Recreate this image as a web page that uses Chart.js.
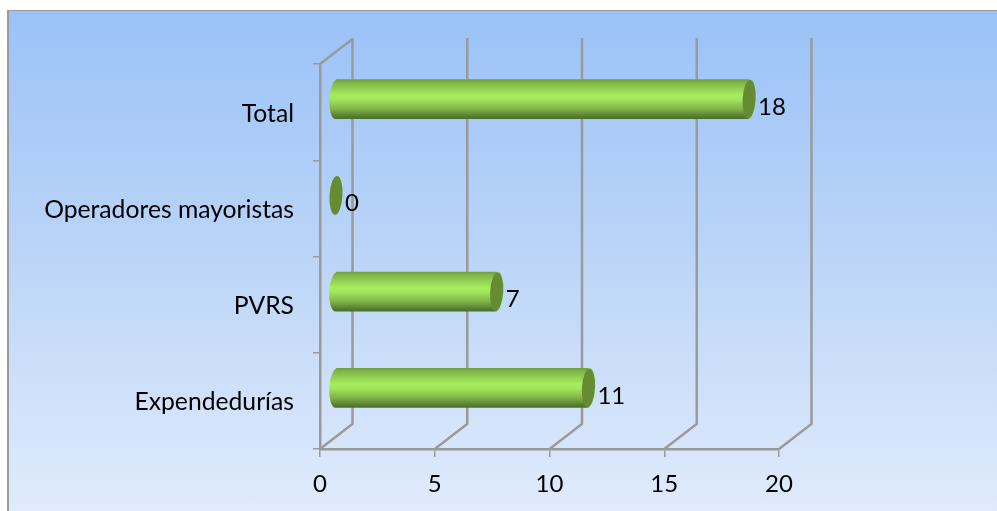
<!DOCTYPE html>
<html>
<head>
<meta charset="utf-8">
<script src="https://cdn.jsdelivr.net/npm/chart.js@4"></script>
<style>
    html, body { margin: 0; padding: 0; background: #fff; overflow: hidden; }
    #frame {
        position: absolute; left: 7px; top: 10px; width: 990px; height: 501px;
        box-sizing: border-box; border-left: 2px solid #9a9a9a; border-top: 1px solid #9a9a9a;
        background: linear-gradient(to bottom, #9ac2f7 0%, #bcd5f7 50%, #e0ebfc 100%);
    }
    #chart { position: absolute; left: 0; top: 0; }
</style>
</head>
<body>
<div id="frame"></div>
<canvas id="chart" width="997" height="511"></canvas>
<script>
// --- DATA ---
const categories = ["Total", "Operadores mayoristas", "PVRS", "Expendedurías"];
const values = [18, 0, 7, 11];
const xTicks = [0, 5, 10, 15, 20];

// --- 3D LOOK ---
const GRID_COLOR = "#9a9a9a";
const CAP_COLOR = "#658c33";
const WALL_DX = 32.5, WALL_DY = -25;   // depth of the back wall
const BAR_DX = 16, BAR_DY = -13;       // bars stand half way into the box
const CAP_RX = 6.5;
const FONT = "Lato";

function barGradient(ctx, mid, half) {
    const g = ctx.createLinearGradient(0, mid - half, 0, mid + half);
    g.addColorStop(0, "#6f9f3d");
    g.addColorStop(0.1, "#82b84a");
    g.addColorStop(0.4, "#a6ec5e");
    g.addColorStop(0.5, "#a3e85c");
    g.addColorStop(0.75, "#7fb348");
    g.addColorStop(0.92, "#587f33");
    g.addColorStop(1, "#4a6e2e");
    return g;
}

// back wall and floor, drawn behind the bars
const wallPlugin = {
    id: "wall",
    beforeDatasetsDraw(chart) {
        const { ctx, scales: { x, y } } = chart;
        ctx.save();
        ctx.strokeStyle = GRID_COLOR;
        ctx.lineWidth = 2.5;
        xTicks.forEach(t => {
            const px = x.getPixelForValue(t);
            ctx.beginPath();
            ctx.moveTo(px, y.bottom);
            ctx.lineTo(px + WALL_DX, y.bottom + WALL_DY);
            ctx.lineTo(px + WALL_DX, y.top + WALL_DY - 1);
            ctx.stroke();
        });
        ctx.beginPath();
        ctx.moveTo(x.left, y.top);
        ctx.lineTo(x.left + WALL_DX, y.top + WALL_DY);
        ctx.stroke();
        ctx.restore();
    }
};

// shifts the bars into the box, then adds the round ends and the value labels
const cylinderPlugin = {
    id: "cylinder",
    beforeDatasetDraw(chart) {
        chart.ctx.save();
        chart.ctx.translate(BAR_DX, BAR_DY);
    },
    afterDatasetDraw(chart, args) {
        const ctx = chart.ctx;
        args.meta.data.forEach((bar, i) => {
            const half = bar.height / 2;
            if (values[i] > 0) {
                ctx.fillStyle = barGradient(ctx, bar.y, half);
                ctx.beginPath();
                ctx.ellipse(bar.base, bar.y, CAP_RX + 1, half, 0.06, 0, Math.PI * 2);
                ctx.fill();
                ctx.strokeStyle = "rgba(150,225,90,0.7)";
                ctx.lineWidth = 1;
                ctx.beginPath();
                ctx.ellipse(bar.x, bar.y, CAP_RX, half, 0.06, -Math.PI / 2, Math.PI / 2);
                ctx.stroke();
            }
            ctx.fillStyle = CAP_COLOR;
            ctx.beginPath();
            ctx.ellipse(bar.x, bar.y, CAP_RX, half - 0.5, 0.06, 0, Math.PI * 2);
            ctx.fill();
        });
        ctx.restore();

        ctx.save();
        ctx.fillStyle = "#000";
        ctx.font = "24px " + FONT;
        ctx.textBaseline = "middle";
        args.meta.data.forEach((bar, i) => {
            ctx.fillText(values[i], bar.x + 25, bar.y - 5);
        });
        ctx.restore();
    }
};

new Chart(document.getElementById("chart"), {
    type: "bar",
    data: {
        labels: categories,
        datasets: [{
            data: values,
            barPercentage: 0.415,
            categoryPercentage: 1,
            backgroundColor(c) {
                const mid = c.chart.scales.y.getPixelForValue(c.dataIndex);
                if (!isFinite(mid)) return "#8cc84b";   // scale not laid out yet
                return barGradient(c.chart.ctx, mid, 20);
            }
        }]
    },
    options: {
        indexAxis: "y",
        responsive: false,
        animation: false,
        layout: { padding: { top: 64, right: 218, left: 0, bottom: 0 } },
        plugins: { legend: { display: false }, tooltip: { enabled: false } },
        scales: {
            x: {
                min: 0, max: 20,
                ticks: { stepSize: 5, color: "#000", font: { family: FONT, size: 24 }, padding: 13, maxRotation: 0 },
                grid: { drawOnChartArea: false, color: GRID_COLOR, lineWidth: 1.5, tickLength: 8 },
                border: { color: GRID_COLOR, width: 2.5 },
                afterFit(s) { s.height = 62; }
            },
            y: {
                ticks: { color: "#000", font: { family: FONT, size: 24.7 }, padding: 19, labelOffset: 1.5 },
                grid: { drawOnChartArea: false, color: GRID_COLOR, lineWidth: 1.5, tickLength: 7 },
                border: { color: GRID_COLOR, width: 2.5 },
                afterFit(s) { s.width = 320; }
            }
        }
    },
    plugins: [wallPlugin, cylinderPlugin]
});
</script>
</body>
</html>
